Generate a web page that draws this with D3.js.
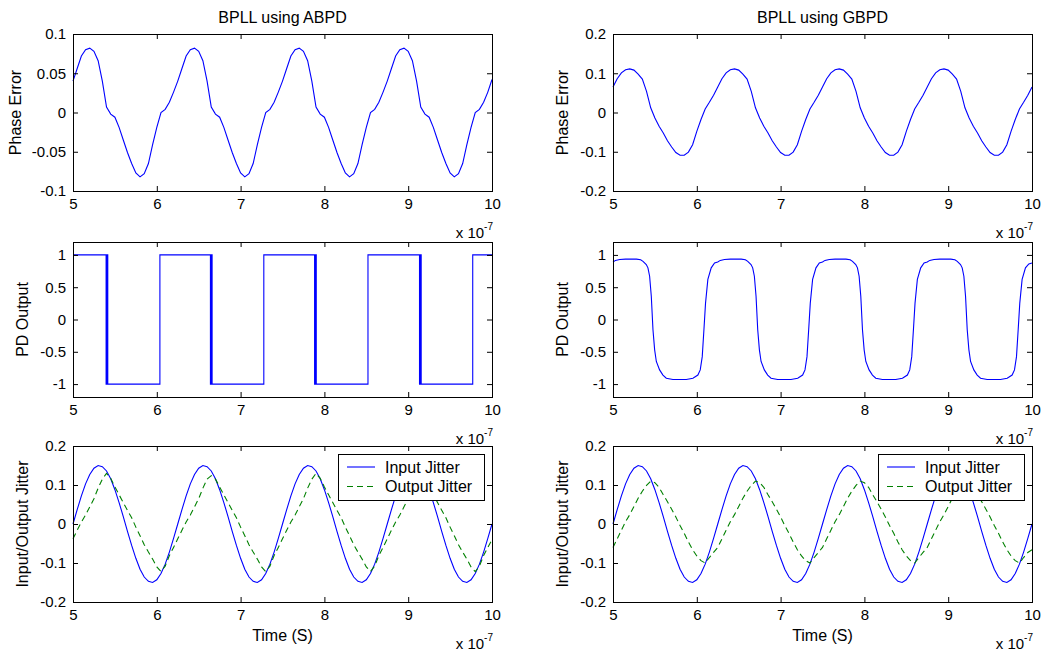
<!DOCTYPE html>
<html>
<head>
<meta charset="utf-8">
<script src="https://cdn.jsdelivr.net/npm/d3@7"></script>
<style>
  body { margin: 0; background: #fff; }
  svg { display: block; font-family: "Liberation Sans", Arial, sans-serif; }
</style>
</head>
<body>
<div id="chart"></div>
<script>
// time axis in units of 1e-7 s
const xTicks = [5, 6, 7, 8, 9, 10];
const sampleT = d3.range(101).map(k => +(5 + k * 0.05).toFixed(2));

// phase error, BPLL using ABPD (read every 0.05)
const phaseErrA = [
  0.040, 0.056, 0.072, 0.080, 0.082, 0.078, 0.066, 0.040, 0.007, -0.002, -0.006, -0.019, -0.035,
  -0.051, -0.065, -0.077, -0.082, -0.078, -0.065, -0.041, -0.019, 0.000, 0.004, 0.013, 0.026,
  0.040, 0.056, 0.072, 0.080, 0.082, 0.078, 0.066, 0.040, 0.007, -0.002, -0.006, -0.019, -0.035,
  -0.051, -0.065, -0.077, -0.082, -0.078, -0.065, -0.041, -0.019, 0.000, 0.004, 0.013, 0.026,
  0.040, 0.056, 0.072, 0.080, 0.082, 0.078, 0.066, 0.040, 0.007, -0.002, -0.006, -0.019, -0.035,
  -0.051, -0.065, -0.077, -0.082, -0.078, -0.065, -0.041, -0.019, 0.000, 0.004, 0.013, 0.026,
  0.040, 0.056, 0.072, 0.080, 0.082, 0.078, 0.066, 0.040, 0.007, -0.002, -0.006, -0.019, -0.035,
  -0.051, -0.065, -0.077, -0.082, -0.078, -0.065, -0.041, -0.019, 0.000, 0.004, 0.013, 0.026,
  0.042
];

// phase error, BPLL using GBPD
const phaseErrG = [
  0.065, 0.086, 0.101, 0.109, 0.111, 0.108, 0.098, 0.085, 0.054, 0.012, -0.014, -0.035, -0.052,
  -0.072, -0.088, -0.102, -0.109, -0.109, -0.101, -0.082, -0.048, -0.018, 0.009, 0.026, 0.044,
  0.065, 0.086, 0.101, 0.109, 0.111, 0.108, 0.098, 0.085, 0.054, 0.012, -0.014, -0.035, -0.052,
  -0.072, -0.088, -0.102, -0.109, -0.109, -0.101, -0.082, -0.048, -0.018, 0.009, 0.026, 0.044,
  0.065, 0.086, 0.101, 0.109, 0.111, 0.108, 0.098, 0.085, 0.054, 0.012, -0.014, -0.035, -0.052,
  -0.072, -0.088, -0.102, -0.109, -0.109, -0.101, -0.082, -0.048, -0.018, 0.009, 0.026, 0.044,
  0.065, 0.086, 0.101, 0.109, 0.111, 0.108, 0.098, 0.085, 0.054, 0.012, -0.014, -0.035, -0.052,
  -0.072, -0.088, -0.102, -0.109, -0.109, -0.101, -0.082, -0.048, -0.018, 0.009, 0.026, 0.044,
  0.065
];

// PD output ABPD: [time, level] at each switch (falling edges chatter)
const pdOutA = [
  [5.000, 1], [5.395, -1], [5.405, 1], [5.415, -1], [6.037, 1],
  [6.640, -1], [6.650, 1], [6.660, -1], [7.277, 1],
  [7.883, -1], [7.893, 1], [7.903, -1], [8.520, 1],
  [9.135, -1], [9.145, 1], [9.155, -1], [9.770, 1], [10.000, 1]
];

// PD output GBPD: [time, value]
const pdOutG = [
  [5.000, 0.89], [5.030, 0.915], [5.080, 0.93], [5.150, 0.935], [5.280, 0.935], [5.330, 0.925], [5.358, 0.90],
  [5.397, 0.85], [5.417, 0.80], [5.437, 0.67], [5.457, 0.36], [5.477, -0.16], [5.497, -0.47], [5.517, -0.65],
  [5.556, -0.78], [5.596, -0.86], [5.636, -0.91], [5.715, -0.93], [5.874, -0.93], [5.954, -0.91], [6.013, -0.86],
  [6.041, -0.78], [6.065, -0.575], [6.085, -0.16], [6.104, 0.25], [6.132, 0.62], [6.172, 0.80], [6.212, 0.876],
  [6.250, 0.89], [6.280, 0.915], [6.330, 0.93], [6.400, 0.935], [6.530, 0.935], [6.580, 0.925], [6.608, 0.90],
  [6.647, 0.85], [6.667, 0.80], [6.687, 0.67], [6.707, 0.36], [6.727, -0.16], [6.747, -0.47], [6.767, -0.65],
  [6.806, -0.78], [6.846, -0.86], [6.886, -0.91], [6.965, -0.93], [7.124, -0.93], [7.204, -0.91], [7.263, -0.86],
  [7.291, -0.78], [7.315, -0.575], [7.335, -0.16], [7.354, 0.25], [7.382, 0.62], [7.422, 0.80], [7.462, 0.876],
  [7.500, 0.89], [7.530, 0.915], [7.580, 0.93], [7.650, 0.935], [7.780, 0.935], [7.830, 0.925], [7.858, 0.90],
  [7.897, 0.85], [7.917, 0.80], [7.937, 0.67], [7.957, 0.36], [7.977, -0.16], [7.997, -0.47], [8.017, -0.65],
  [8.056, -0.78], [8.096, -0.86], [8.136, -0.91], [8.215, -0.93], [8.374, -0.93], [8.454, -0.91], [8.513, -0.86],
  [8.541, -0.78], [8.565, -0.575], [8.585, -0.16], [8.604, 0.25], [8.632, 0.62], [8.672, 0.80], [8.712, 0.876],
  [8.750, 0.89], [8.780, 0.915], [8.830, 0.93], [8.900, 0.935], [9.030, 0.935], [9.080, 0.925], [9.108, 0.90],
  [9.147, 0.85], [9.167, 0.80], [9.187, 0.67], [9.207, 0.36], [9.227, -0.16], [9.247, -0.47], [9.267, -0.65],
  [9.306, -0.78], [9.346, -0.86], [9.386, -0.91], [9.465, -0.93], [9.624, -0.93], [9.704, -0.91], [9.763, -0.86],
  [9.791, -0.78], [9.815, -0.575], [9.835, -0.16], [9.854, 0.25], [9.882, 0.62], [9.922, 0.80], [9.962, 0.86],
  [10.000, 0.875]
];

// input jitter (same in both runs)
const inputJitter = [
  0.000, 0.037, 0.072, 0.103, 0.127, 0.143, 0.150, 0.147, 0.136, 0.116, 0.088, 0.055, 0.019,
  -0.019, -0.055, -0.088, -0.116, -0.136, -0.147, -0.150, -0.143, -0.127, -0.103, -0.072, -0.037,
  0.000, 0.037, 0.072, 0.103, 0.127, 0.143, 0.150, 0.147, 0.136, 0.116, 0.088, 0.055, 0.019,
  -0.019, -0.055, -0.088, -0.116, -0.136, -0.147, -0.150, -0.143, -0.127, -0.103, -0.072, -0.037,
  0.000, 0.037, 0.072, 0.103, 0.127, 0.143, 0.150, 0.147, 0.136, 0.116, 0.088, 0.055, 0.019,
  -0.019, -0.055, -0.088, -0.116, -0.136, -0.147, -0.150, -0.143, -0.127, -0.103, -0.072, -0.037,
  0.000, 0.037, 0.072, 0.103, 0.127, 0.143, 0.150, 0.147, 0.136, 0.116, 0.088, 0.055, 0.019,
  -0.019, -0.055, -0.088, -0.116, -0.136, -0.147, -0.150, -0.143, -0.127, -0.103, -0.072, -0.037,
  0.000
];

// output jitter ABPD
const outJitterA = [
  -0.038, -0.016, 0.005, 0.023, 0.044, 0.065, 0.092, 0.115, 0.130, 0.117, 0.095, 0.075, 0.055,
  0.035, 0.016, -0.008, -0.030, -0.053, -0.072, -0.090, -0.110, -0.122, -0.108, -0.081, -0.060,
  -0.038, -0.016, 0.005, 0.023, 0.044, 0.065, 0.092, 0.115, 0.124, 0.115, 0.095, 0.075, 0.055,
  0.035, 0.016, -0.008, -0.030, -0.053, -0.072, -0.090, -0.110, -0.122, -0.108, -0.081, -0.060,
  -0.038, -0.016, 0.005, 0.023, 0.044, 0.065, 0.092, 0.115, 0.130, 0.117, 0.095, 0.075, 0.055,
  0.035, 0.016, -0.008, -0.030, -0.053, -0.072, -0.090, -0.110, -0.122, -0.108, -0.081, -0.060,
  -0.038, -0.016, 0.005, 0.023, 0.044, 0.065, 0.092, 0.115, 0.128, 0.117, 0.095, 0.075, 0.055,
  0.035, 0.016, -0.008, -0.030, -0.053, -0.072, -0.090, -0.110, -0.122, -0.108, -0.081, -0.060,
  -0.040
];

// output jitter GBPD
const outJitterG = [
  -0.060, -0.038, -0.016, 0.006, 0.024, 0.045, 0.066, 0.084, 0.099, 0.110, 0.106, 0.094, 0.075,
  0.057, 0.038, 0.018, -0.004, -0.024, -0.046, -0.066, -0.082, -0.094, -0.100, -0.086, -0.073,
  -0.060, -0.038, -0.016, 0.006, 0.024, 0.045, 0.066, 0.084, 0.099, 0.110, 0.106, 0.094, 0.075,
  0.057, 0.038, 0.018, -0.004, -0.024, -0.046, -0.066, -0.082, -0.094, -0.100, -0.086, -0.073,
  -0.060, -0.038, -0.016, 0.006, 0.024, 0.045, 0.066, 0.084, 0.099, 0.110, 0.106, 0.094, 0.075,
  0.057, 0.038, 0.018, -0.004, -0.024, -0.046, -0.066, -0.082, -0.094, -0.100, -0.086, -0.073,
  -0.060, -0.038, -0.016, 0.006, 0.024, 0.045, 0.066, 0.084, 0.099, 0.110, 0.106, 0.094, 0.075,
  0.057, 0.038, 0.018, -0.004, -0.024, -0.046, -0.066, -0.082, -0.094, -0.100, -0.086, -0.073,
  -0.066
];

const ticksSmall = [-0.1, -0.05, 0, 0.05, 0.1];
const ticksPoint2 = [-0.2, -0.1, 0, 0.1, 0.2];
const ticksPD = [-1, -0.5, 0, 0.5, 1];

const BLUE = '#0000ff', GREEN = '#008000';

let svg = d3.select('#chart').append('svg')
    .attr('width', 1043)
    .attr('height', 656);

const cols = [{ x0: 73, x1: 492, ylab: [21, 28, 28] }, { x0: 613, x1: 1032, ylab: [568, 568, 568] }];
const rows = [{ y0: 34, y1: 191 }, { y0: 242, y1: 397 }, { y0: 446, y1: 602 }];

const zip = vals => vals.map((v, i) => [sampleT[i], v]);
const fmt = d => String(+d.toFixed(2));

function drawPanel(ci, ri, cfg) {
    const col = cols[ci], row = rows[ri];
    const x = d3.scaleLinear().domain([5, 10]).range([col.x0, col.x1]);
    const y = d3.scaleLinear().domain(cfg.yDomain).range([row.y1, row.y0]);
    const g = svg.append('g');

    cfg.series.forEach(s => {
        const line = d3.line().x(d => x(d[0])).y(d => y(d[1]));
        if (s.step) line.curve(d3.curveStepAfter);
        g.append('path')
            .attr('d', line(s.points))
            .attr('fill', 'none')
            .attr('stroke', s.color)
            .attr('stroke-width', 1.1)
            .attr('stroke-dasharray', s.dash || null);
    });

    // axes, ticks pointing inward on all four sides
    const axes = [
        [d3.axisBottom(x).tickValues(xTicks).tickSize(-5).tickPadding(7).tickFormat(fmt), `translate(0,${row.y1})`],
        [d3.axisTop(x).tickValues(xTicks).tickSize(-5).tickFormat(''), `translate(0,${row.y0})`],
        [d3.axisLeft(y).tickValues(cfg.yTicks).tickSize(-5).tickPadding(7).tickFormat(fmt), `translate(${col.x0},0)`],
        [d3.axisRight(y).tickValues(cfg.yTicks).tickSize(-5).tickFormat(''), `translate(${col.x1},0)`]
    ];
    axes.forEach(([ax, tr]) => {
        const a = g.append('g').attr('transform', tr).call(ax);
        a.select('.domain').remove();
        a.attr('font-family', null).attr('font-size', null);
        a.selectAll('line').attr('stroke', '#000');
        a.selectAll('text').attr('fill', '#000').style('font-size', '15px');
    });

    g.append('rect')
        .attr('x', col.x0 + 0.5).attr('y', row.y0 + 0.5)
        .attr('width', col.x1 - col.x0).attr('height', row.y1 - row.y0)
        .attr('fill', 'none').attr('stroke', '#000');

    // exponent note
    const ex = g.append('text')
        .attr('x', col.x1 + 1).attr('y', row.y1 + 47)
        .attr('text-anchor', 'end').style('font-size', '15px');
    ex.append('tspan').text('x 10');
    ex.append('tspan').attr('dy', -8).style('font-size', '10px').text('-7');

    g.append('text')
        .attr('transform', `translate(${col.ylab[ri]},${(row.y0 + row.y1) / 2}) rotate(-90)`)
        .attr('text-anchor', 'middle').style('font-size', '16px')
        .text(cfg.ylabel);

    if (cfg.title) {
        g.append('text')
            .attr('x', (col.x0 + col.x1) / 2).attr('y', 23)
            .attr('text-anchor', 'middle').style('font-size', '16px')
            .text(cfg.title);
    }
    if (cfg.xlabel) {
        g.append('text')
            .attr('x', (col.x0 + col.x1) / 2).attr('y', row.y1 + 39)
            .attr('text-anchor', 'middle').style('font-size', '16px')
            .text(cfg.xlabel);
    }
    if (cfg.legend) {
        const lx = col.x1 - 154, ly = row.y0 + 8;
        const lg = g.append('g').attr('transform', `translate(${lx},${ly})`);
        lg.append('rect').attr('x', 0.5).attr('y', 0.5).attr('width', 146).attr('height', 46)
            .attr('fill', '#fff').attr('stroke', '#000');
        cfg.legend.forEach((s, i) => {
            const cy = 13 + i * 19.5;
            lg.append('line').attr('x1', 9).attr('x2', 37).attr('y1', cy).attr('y2', cy)
                .attr('stroke', s.color).attr('stroke-width', 1.1)
                .attr('stroke-dasharray', s.dash || null);
            lg.append('text').attr('x', 47).attr('y', cy + 5.5).style('font-size', '16px').text(s.name);
        });
    }
}

const jitterSeries = (out) => [
    { name: 'Input Jitter', points: zip(inputJitter), color: BLUE },
    { name: 'Output Jitter', points: zip(out), color: GREEN, dash: '6,4' }
];

drawPanel(0, 0, { title: 'BPLL using ABPD', ylabel: 'Phase Error', yDomain: [-0.1, 0.1], yTicks: ticksSmall,
    series: [{ points: zip(phaseErrA), color: BLUE }] });
drawPanel(1, 0, { title: 'BPLL using GBPD', ylabel: 'Phase Error', yDomain: [-0.2, 0.2], yTicks: ticksPoint2,
    series: [{ points: zip(phaseErrG), color: BLUE }] });
drawPanel(0, 1, { ylabel: 'PD Output', yDomain: [-1.2, 1.2], yTicks: ticksPD,
    series: [{ points: pdOutA, color: BLUE, step: true }] });
drawPanel(1, 1, { ylabel: 'PD Output', yDomain: [-1.2, 1.2], yTicks: ticksPD,
    series: [{ points: pdOutG, color: BLUE }] });

const jA = jitterSeries(outJitterA), jG = jitterSeries(outJitterG);
drawPanel(0, 2, { ylabel: 'Input/Output Jitter', xlabel: 'Time (S)', yDomain: [-0.2, 0.2], yTicks: ticksPoint2,
    series: jA, legend: jA });
drawPanel(1, 2, { ylabel: 'Input/Output Jitter', xlabel: 'Time (S)', yDomain: [-0.2, 0.2], yTicks: ticksPoint2,
    series: jG, legend: jG });
</script>
</body>
</html>
